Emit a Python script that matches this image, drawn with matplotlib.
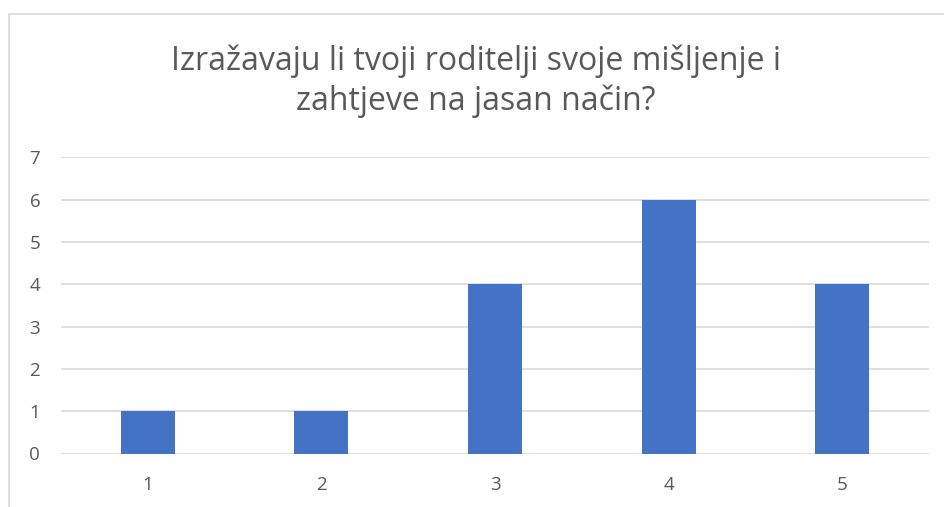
import matplotlib
matplotlib.use('Agg')
import matplotlib.pyplot as plt
from matplotlib.patches import Rectangle

categories = ['1', '2', '3', '4', '5']
counts = [1, 1, 4, 6, 4]
yticks = [0, 1, 2, 3, 4, 5, 6, 7]
title = 'Izražavaju li tvoji roditelji svoje mišljenje i\nzahtjeve na jasan način?'

W, H = 944, 507
TEXT = '#595959'
GRID = '#d9d9d9'
BAR = '#4472C4'

plt.rcParams['font.family'] = ['Open Sans', 'DejaVu Sans']

fig = plt.figure(figsize=(W / 100, H / 100), dpi=100)

# chart border (runs off the right and bottom edge)
fig.patches.append(Rectangle((8.5 / W, -0.1), 1.2, 1 - 13.5 / H + 0.1,
                             transform=fig.transFigure, fill=False,
                             edgecolor='#d9d9d9', linewidth=1.2))

left, right = 61 / W, 929 / W
top, bottom = 1 - 157.5 / H, 1 - 453.5 / H
ax = fig.add_axes([left, bottom, right - left, top - bottom])

x = list(range(1, len(categories) + 1))
ax.bar(x, counts, width=0.31, color=BAR, zorder=3)

ax.set_xlim(0.5, 5.5)
ax.set_ylim(0, 7)
ax.set_yticks(yticks)
ax.set_xticks(x)
ax.set_xticklabels(categories)
ax.yaxis.grid(True, color=GRID, linewidth=1.2)
ax.set_axisbelow(True)
for s in ax.spines.values():
    s.set_visible(False)
ax.tick_params(length=0, labelsize=13.5, colors=TEXT)
ax.tick_params(axis='y', pad=15)
ax.tick_params(axis='x', pad=16)

fig.text(0.5 * (8.5 / W + 1), 1 - 81 / H, title, ha='center', va='center',
         fontsize=23, color=TEXT, linespacing=1.25)

fig.savefig('out.png', dpi=100)
